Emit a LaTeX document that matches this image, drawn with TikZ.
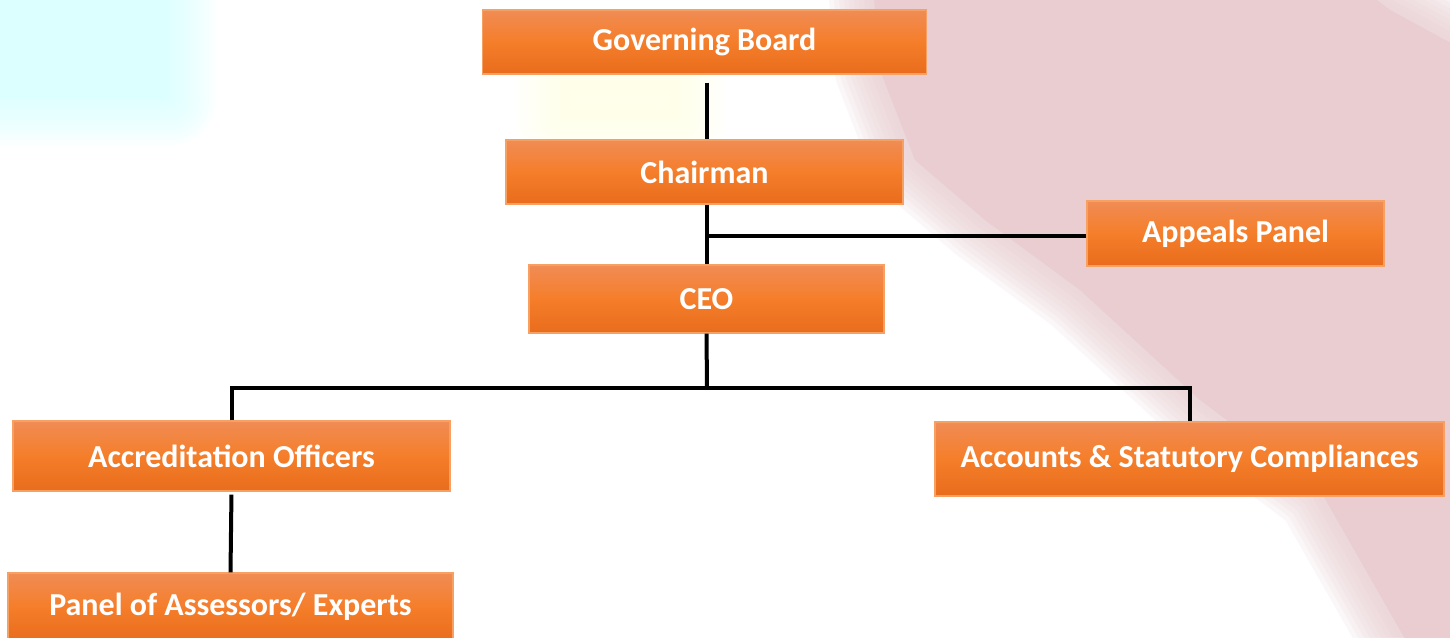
\documentclass[tikz,border=0pt]{standalone}
\usepackage{fontspec}
\setmainfont{Carlito}
\definecolor{boxtop}{RGB}{240,140,85}
\definecolor{boxmid}{RGB}{245,126,42}
\definecolor{boxbot}{RGB}{232,108,28}
\definecolor{boxedge}{RGB}{246,160,100}
\definecolor{pinkbg}{RGB}{233,205,208}
\definecolor{cyanbg}{RGB}{220,255,255}
\definecolor{yellowbg}{RGB}{255,255,230}
\begin{document}
\begin{tikzpicture}[x=1pt,y=-1pt,
  orgbox/.style={draw=boxedge, line width=1.2pt, top color=boxtop, bottom color=boxbot, middle color=boxmid,
    inner sep=0pt, text=white, font=\bfseries\fontsize{32}{38}\selectfont},
  conn/.style={line width=4pt, draw=black},
  pinkshape/.style={insert path={(870,-50) -- (1310,-50) -- (1390,10) -- (1500,70) -- (1500,700) -- (1440,700)
     -- (1320,490) -- (1200,400) -- (1080,290) -- (985,220) -- (915,160) -- (880,70) -- cycle}},
  cyanshape/.style={insert path={(-60,-60) rectangle (170,100)}},
  yellowshape/.style={insert path={(560,80) rectangle (680,120)}}]
\useasboundingbox (0,0) rectangle (1450,637);
\fill[white] (0,0) rectangle (1450,637);
% soft background
\begin{scope}
  \foreach \w in {90,80,...,10}{
    \draw[pinkbg, line width=\w pt, opacity=0.14, line join=round, pinkshape];
    \draw[cyanbg, line width=\w pt, opacity=0.14, line join=round, cyanshape];
    \draw[yellowbg, line width=\w pt, opacity=0.1, line join=round, yellowshape];
  }
  \fill[pinkbg, pinkshape];
  \fill[cyanbg, cyanshape];
  \fill[yellowbg, opacity=0.5, yellowshape];
\end{scope}
% boxes
\node[orgbox, minimum width=444pt, minimum height=64pt] (gb) at (704.5,42) {Governing Board};
\node[orgbox, minimum width=397pt, minimum height=64pt] (ch) at (704.5,172) {Chairman};
\node[orgbox, minimum width=297pt, minimum height=65pt] (ap) at (1235.5,233.5) {Appeals Panel};
\node[orgbox, minimum width=355pt, minimum height=68pt] (ceo) at (706.5,299) {CEO};
\node[orgbox, minimum width=437pt, minimum height=70pt] (ao) at (231.5,456) {Accreditation Officers};
\node[orgbox, minimum width=509pt, minimum height=74pt] (acc) at (1189.5,459) {Accounts \& Statutory Compliances};
\node[orgbox, minimum width=445pt, minimum height=68pt] (pa) at (230.5,607) {Panel of Assessors/ Experts};
\coordinate (bus) at (707,388);
% connectors
\draw[conn] ([yshift=-8pt]gb.south -| ceo.north) -- (ch.north -| ceo.north);
\draw[conn] (ch.south -| ceo.north) -- (ceo.north);
\draw[conn] ([yshift=-2.5pt]ap.west) -- ([yshift=-2.5pt]ap.west -| ceo.north);
\draw[conn] (ceo.south) -- (bus);
\draw[conn] (ao.north) |- (bus) -| (acc.north);
\draw[conn, shorten <=3pt] (ao.south) -- (pa.north);
\end{tikzpicture}
\end{document}
